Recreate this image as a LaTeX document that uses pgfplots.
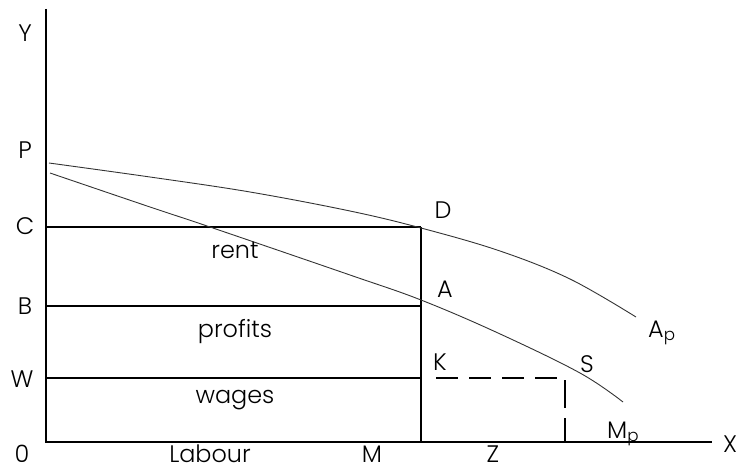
\documentclass[border=0pt]{standalone}
\usepackage{pgfplots}
\pgfplotsset{compat=1.18}
\usepackage{fontspec}
\setmainfont{Poppins}[UprightFont=* Light]
\tikzset{lbl/.style={font=\fontsize{24}{28}\selectfont, text=black, inner sep=0pt, anchor=base}}
\begin{document}
\begin{tikzpicture}
\begin{axis}[
  scale only axis, width=739bp, height=472bp,
  xmin=0, xmax=739, ymin=0, ymax=472, y dir=reverse,
  axis lines=none, clip=false,
]
\path[use as bounding box] (rel axis cs:0,0) rectangle (rel axis cs:1,1);
% axes
\addplot[black, line width=1.4bp] coordinates {(46,9) (46,442) (712,442)};
% horizontal lines C, B, W
\addplot[black, line width=1.4bp] coordinates {(46,227) (421,227)};
\addplot[black, line width=1.4bp] coordinates {(46,306) (421,306)};
\addplot[black, line width=1.4bp] coordinates {(46,378) (421,378)};
% vertical at M
\addplot[black, line width=1.4bp] coordinates {(421,227) (421,442)};
% dashed K-S and down to Z
\addplot[black, line width=1.6bp, dash pattern=on 22bp off 11bp] coordinates {(436,378) (565,378)};
\addplot[black, line width=1.6bp, dash pattern=on 28bp off 10bp] coordinates {(565,380) (565,442)};
% Average product curve Ap
\addplot[black!80, line width=0.9bp, smooth, tension=0.6] coordinates {
(49,163) (150,177) (250,192) (350,211) (421,228) (500,251) (570,279) (636,317)};
% Marginal product curve Mp
\addplot[black!80, line width=0.9bp, smooth, tension=0.6] coordinates {
(50,173) (150,207) (210,227) (350,275) (421,300) (498,333) (580,373) (623,402)};
% labels
\node[lbl] at (axis cs:25,42) {Y};
\node[lbl] at (axis cs:25,158) {P};
\node[lbl] at (axis cs:25,234) {C};
\node[lbl] at (axis cs:25,314) {B};
\node[lbl] at (axis cs:22,387) {W};
\node[lbl] at (axis cs:22,462) {0};
\node[lbl] at (axis cs:210,462) {Labour};
\node[lbl] at (axis cs:372,462) {M};
\node[lbl] at (axis cs:493,462) {Z};
\node[lbl] at (axis cs:730,452) {X};
\node[lbl] at (axis cs:443,218) {D};
\node[lbl] at (axis cs:445,297) {A};
\node[lbl] at (axis cs:440,370) {K};
\node[lbl] at (axis cs:587,372) {S};
\node[lbl, anchor=base west] at (axis cs:648,337) {A\textsubscript{p}};
\node[lbl, anchor=base west] at (axis cs:607,438) {M\textsubscript{p}};
\node[lbl] at (axis cs:235,258) {rent};
\node[lbl] at (axis cs:235,337) {profits};
\node[lbl] at (axis cs:235,403) {wages};
\end{axis}
\end{tikzpicture}
\end{document}
